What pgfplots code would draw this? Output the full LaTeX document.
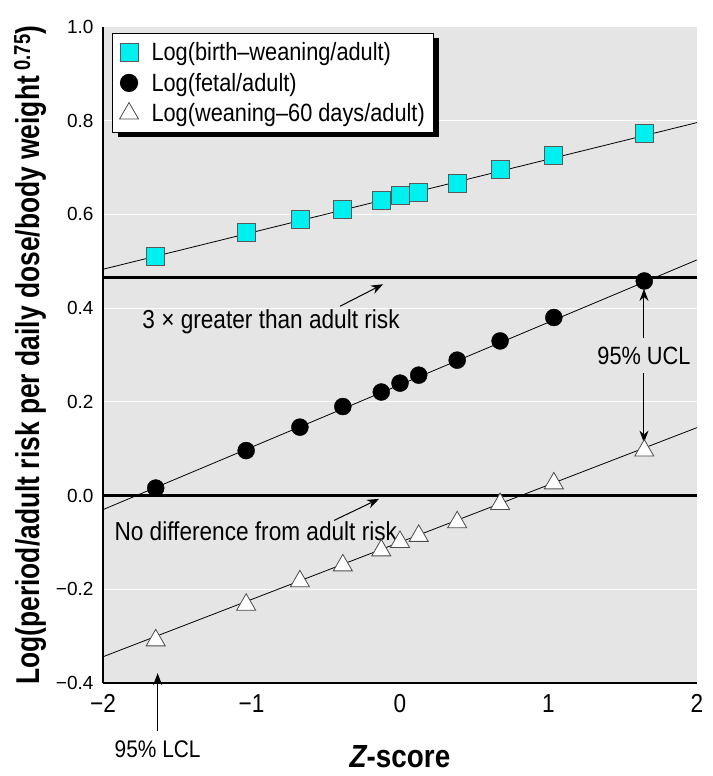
\documentclass[border=0pt]{standalone}
\usepackage{fontspec}
\setmainfont{Liberation Sans}
\newfontfamily\cond[FakeStretch=0.87]{Liberation Sans}
\newfontfamily\condn[FakeStretch=0.8]{Liberation Sans}
\usepackage{pgfplots}
\usepackage{pgfplotstable}
\pgfplotsset{compat=1.18}
\usetikzlibrary{arrows.meta,shadows}

\definecolor{bg}{RGB}{229,229,229}
\definecolor{sqfill}{RGB}{0,240,240}

% z-score, birth-weaning, fetal, weaning-60 days (all log ratio to adult)
\pgfplotstableread{
z      birth  fetal  wean
-1.645 0.511  0.016 -0.309
-1.036 0.561  0.096 -0.233
-0.674 0.590  0.146 -0.183
-0.385 0.610  0.190 -0.149
-0.126 0.629  0.221 -0.117
 0.000 0.640  0.240 -0.099
 0.126 0.648  0.257 -0.086
 0.385 0.667  0.289 -0.057
 0.674 0.697  0.330 -0.018
 1.036 0.725  0.380  0.026
 1.645 0.772  0.458  0.096
}\risk

\begin{document}
\begin{tikzpicture}
\begin{axis}[
  scale only axis,
  width=594pt, height=656pt,
  xmin=-2, xmax=2, ymin=-0.4, ymax=1.0,
  clip=false,
  axis x line*=bottom, axis y line*=left,
  axis line style={-, line width=2.5pt},
  axis background/.style={fill=bg},
  major tick length=0pt,
  ymajorgrids,
  major grid style={white, line width=1pt},
  xtick={-2,-1,0,1,2},
  xticklabels={−2,−1,0,1,2},
  ytick={-0.4,-0.2,0,0.2,0.4,0.6,0.8,1.0},
  yticklabels={−0.4,−0.2,0.0,0.2,0.4,0.6,0.8,1.0},
  xticklabel style={font=\cond\fontsize{26}{26}\selectfont, yshift=-8pt},
  yticklabel style={font=\fontsize{19}{19}\selectfont, xshift=-6pt},
  xlabel={\itshape Z\upshape -score},
  ylabel={Log(period/adult risk per daily dose/body weight\,\textsuperscript{0.75})},
  every axis x label/.style={at={(axis description cs:0.5,-0.1128)}, anchor=center,
    font=\cond\bfseries\fontsize{32}{32}\selectfont},
  every axis y label/.style={at={(axis description cs:-0.1229,0.5)}, anchor=center, rotate=90,
    font=\condn\bfseries\fontsize{33}{33}\selectfont},
  legend cell align=left,
  legend style={at={(axis description cs:0.015,0.991)}, anchor=north west,
    draw=black, line width=1.2pt, fill=white,
    drop shadow={shadow xshift=5pt, shadow yshift=-5pt, fill=black, opacity=1},
    font=\cond\fontsize{25}{29}\selectfont,
    inner xsep=7pt, inner ysep=7pt, row sep=7pt,
    /tikz/every odd column/.append style={column sep=11pt}},
]
% reference lines
\addplot[black, line width=2.5pt, forget plot] coordinates {(-2,0.465) (2,0.465)};
\addplot[black, line width=2.5pt, forget plot] coordinates {(-2,0) (2,0)};
% fitted lines
\addplot[black, line width=0.8pt, forget plot] coordinates {(-2,0.483) (2,0.796)};
\addplot[black, line width=0.8pt, forget plot] coordinates {(-2,-0.030) (2,0.503)};
\addplot[black, line width=0.8pt, forget plot] coordinates {(-2,-0.344) (2,0.145)};
% data
\addplot[only marks, mark=square*, mark size=9pt,
  mark options={fill=sqfill, draw=gray!70!black, line width=0.8pt}]
  table[x=z, y=birth] {\risk};
\addlegendentry{Log(birth–weaning/adult)}
\addplot[only marks, mark=*, mark size=8.5pt, mark options={fill=black, draw=black}]
  table[x=z, y=fetal] {\risk};
\addlegendentry{Log(fetal/adult)}
\addplot[only marks, mark=triangle*, mark size=11pt,
  mark options={fill=white, draw=gray!60!black, line width=0.8pt}]
  table[x=z, y=wean] {\risk};
\addlegendentry{Log(weaning–60 days/adult)}
% annotations
\node[anchor=west, font=\cond\fontsize{26}{26}\selectfont] at (axis cs:-1.758,0.370) {3 × greater than adult risk};
\draw[-{Stealth[length=12pt,width=9pt]}, line width=1pt] (axis cs:-0.404,0.404) -- (axis cs:-0.114,0.451);
\node[anchor=west, font=\cond\fontsize{26}{26}\selectfont] at (axis cs:-1.946,-0.075) {No difference from adult risk};
\draw[-{Stealth[length=12pt,width=9pt]}, line width=1pt] (axis cs:-0.444,-0.053) -- (axis cs:-0.141,-0.007);
\node[font=\cond\fontsize{25}{25}\selectfont] at (axis cs:1.643,0.299) {95\% UCL};
\draw[-{Stealth[length=12pt,width=9pt]}, line width=1pt] (axis cs:1.643,0.336) -- (axis cs:1.643,0.441);
\draw[-{Stealth[length=12pt,width=9pt]}, line width=1pt] (axis cs:1.643,0.261) -- (axis cs:1.643,0.113);
\draw[-{Stealth[length=12pt,width=9pt]}, line width=1pt] (axis cs:-1.632,-0.503) -- (axis cs:-1.632,-0.379);
\node[font=\cond\fontsize{24}{24}\selectfont] at (axis cs:-1.632,-0.541) {95\% LCL};
\end{axis}
\pgfresetboundingbox
\path ([shift={(-103pt,-93pt)}]current axis.south west) rectangle ([shift={(16pt,27pt)}]current axis.north east);
\end{tikzpicture}
\end{document}
